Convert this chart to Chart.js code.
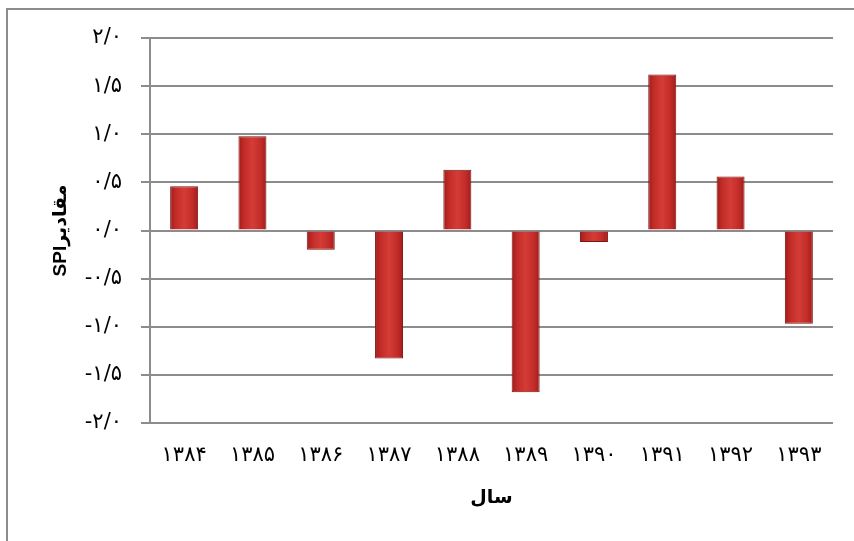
<!DOCTYPE html>
<html>
<head>
<meta charset="utf-8">
<script src="https://cdn.jsdelivr.net/npm/chart.js@4"></script>
<style>
  html, body { margin: 0; padding: 0; background: #ffffff; }
  #wrap { position: relative; width: 854px; height: 541px; }
</style>
</head>
<body>
<div id="wrap"><canvas id="c" width="854" height="541"></canvas></div>
<script>
const categories = ['۱۳۸۴', '۱۳۸۵', '۱۳۸۶', '۱۳۸۷', '۱۳۸۸', '۱۳۸۹', '۱۳۹۰', '۱۳۹۱', '۱۳۹۲', '۱۳۹۳'];
const spiValues = [0.46, 0.98, -0.20, -1.33, 0.63, -1.68, -0.12, 1.62, 0.56, -0.97];
const yTickValues = [-2, -1.5, -1, -0.5, 0, 0.5, 1, 1.5, 2];
const yTickLabels = ['-۲/۰', '-۱/۵', '-۱/۰', '-۰/۵', '۰/۰', '۰/۵', '۱/۰', '۱/۵', '۲/۰'];
const xAxisTitle = 'سال';
const yAxisTitle = 'SPIمقادیر';

const frame = {
  id: 'frame',
  beforeDraw(chart) {
    const ctx = chart.ctx;
    ctx.save();
    ctx.fillStyle = '#ffffff';
    ctx.fillRect(0, 0, chart.width, chart.height);
    ctx.strokeStyle = '#8c8c8c';
    ctx.lineWidth = 2;
    ctx.strokeRect(7, 9, 860, 600);
    ctx.restore();
  }
};

function barFill(context) {
  const el = context.element;
  if (!el || el.x == null || el.width == null || isNaN(el.x)) return '#c62a28';
  const g = context.chart.ctx.createLinearGradient(el.x - el.width / 2, 0, el.x + el.width / 2, 0);
  g.addColorStop(0, '#a01c1a');
  g.addColorStop(0.2, '#c22c28');
  g.addColorStop(0.5, '#d43c36');
  g.addColorStop(0.8, '#c22c28');
  g.addColorStop(1, '#a01c1a');
  return g;
}

const chart = new Chart(document.getElementById('c'), {
  type: 'bar',
  data: {
    labels: categories,
    datasets: [{
      data: spiValues,
      backgroundColor: barFill,
      borderColor: '#7a1412',
      borderWidth: 1,
      categoryPercentage: 1.0,
      barPercentage: 0.41
    }]
  },
  options: {
    responsive: false,
    animation: false,
    devicePixelRatio: 1,
    layout: { padding: { top: 38, right: 21, bottom: 0, left: 0 } },
    plugins: { legend: { display: false }, tooltip: { enabled: false } },
    scales: {
      x: {
        grid: { display: false, drawTicks: false },
        border: { display: false },
        ticks: {
          color: '#000000',
          font: { family: 'DejaVu Sans', size: 21 },
          padding: 20,
          maxRotation: 0,
          autoSkip: false
        },
        title: {
          display: true,
          text: xAxisTitle,
          color: '#000000',
          font: { family: 'DejaVu Sans', size: 19, weight: 'bold' },
          padding: { top: 0, bottom: 32 }
        },
        afterFit(scale) { scale.height = 118; }
      },
      y: {
        min: -2,
        max: 2,
        afterBuildTicks(scale) { scale.ticks = yTickValues.map(v => ({ value: v })); },
        grid: { color: '#8c8c8c', lineWidth: 2, tickLength: 9, drawTicks: true },
        border: { display: true, color: '#8c8c8c', width: 2 },
        ticks: {
          color: '#000000',
          font: { family: 'DejaVu Sans', size: 21 },
          padding: 19,
          callback(value) {
            const i = yTickValues.indexOf(value);
            return i >= 0 ? yTickLabels[i] : '';
          }
        },
        title: {
          display: true,
          text: yAxisTitle,
          color: '#000000',
          font: { family: 'Liberation Sans, DejaVu Sans', size: 19, weight: 'bold' },
          padding: { top: 49, bottom: 0 }
        },
        afterFit(scale) { scale.width = 150; }
      }
    }
  },
  plugins: [frame]
});
chart.update('none');
</script>
</body>
</html>
